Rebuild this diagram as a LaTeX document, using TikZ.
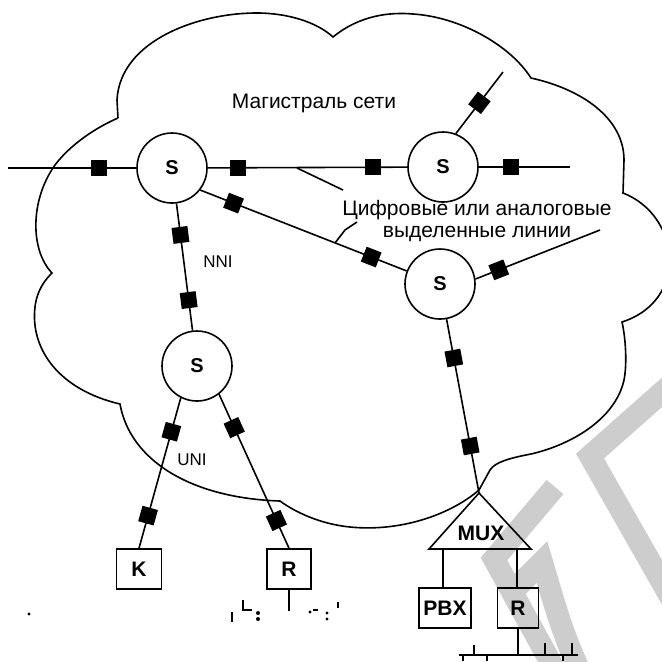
\documentclass[tikz,border=0pt]{standalone}
\usepackage{fontspec}
\setmainfont{Liberation Sans}
\usetikzlibrary{calc}
\definecolor{wmgray}{HTML}{CDCDCD}
\begin{document}
\begin{tikzpicture}[x=0.5pt,y=-0.5pt,line width=0.8pt,
  sw/.style={circle,draw,minimum size=35pt,inner sep=0pt,font=\bfseries\fontsize{10}{12}\selectfont},
  box/.style={draw,minimum height=20pt,inner sep=0pt,font=\bfseries\fontsize{10.5}{12}\selectfont},
  mk/.style={fill=black,draw=none,minimum size=8pt,inner sep=0pt},
  lbl/.style={font=\fontsize{10.5}{11}\selectfont,inner sep=0pt},
  small/.style={font=\fontsize{8.5}{10}\selectfont,inner sep=0pt},
  wm/.style={draw=wmgray,line width=11pt},
  frag/.style={line width=0.7pt}]
\useasboundingbox (0,0) rectangle (662,661);
% watermark
\draw[wm] (555,487) -- (494,559) -- (556,672);
\draw[wm] (512,592) -- (542,562) .. controls (552,595) and (562,635) .. (582,675);
\draw[wm] (685,372) -- (590,456) -- (672,600);
% cloud
\draw (118,118) -- (117,100) .. controls (120,40) and (200,12) .. (260,13)
  .. controls (295,14) and (320,25) .. (333,37)
  .. controls (360,15) and (390,12) .. (413,14)
  .. controls (460,17) and (510,45) .. (531,78)
  .. controls (585,90) and (624,120) .. (624,160) -- (623,193)
  .. controls (680,215) and (690,300) .. (622,322)
  .. controls (626,340) and (627,365) .. (624,380)
  .. controls (615,420) and (570,445) .. (531,454)
  .. controls (510,458) and (495,462) .. (490,470) -- (479,490)
  .. controls (450,515) and (400,532) .. (350,527)
  .. controls (320,524) and (295,512) .. (280,501)
  .. controls (190,498) and (130,460) .. (120,404)
  .. controls (60,390) and (30,350) .. (35,307)
  .. controls (37,290) and (45,280) .. (52,273)
  .. controls (30,250) and (30,200) .. (55,165)
  .. controls (70,145) and (95,128) .. (118,118);
% free ends
\coordinate (eL) at (8,168);
\coordinate (eT) at (503,72);
\coordinate (eR) at (570,167);
\coordinate (eD) at (600,230);
\coordinate (mA) at (479,493);
\coordinate (mL) at (429,549);
\coordinate (mR) at (531,549);
\coordinate (b1) at (443,549);
\coordinate (b2) at (517,549);
% nodes
\node[sw] (S1) at (172,168) {S};
\node[sw] (S2) at (443,167) {S};
\node[sw] (S3) at (440,284) {S};
\node[sw] (S4) at (197,366) {S};
\node[box,minimum width=22.5pt] (K) at (139,569) {K};
\node[box,minimum width=22pt] (RL) at (289,569) {R};
\node[box,minimum width=26pt] (PBX) at (445,608) {PBX};
\node[box,minimum width=20.5pt] (RR) at (518,608) {R};
\draw (mA) -- (mR) -- (mL) -- cycle;
\node[font=\bfseries\fontsize{10.5}{12}\selectfont,inner sep=0pt] (MUX) at (481,533) {MUX};
% connectors
\draw (eL) -- (S1);
\path (eL) -- node[mk,pos=0.555] (q1) {} (S1.center);
\draw (S1) -- (S2);
\path (S1.center) -- node[mk,pos=0.244] (q2) {} node[mk,pos=0.742] (q3) {} (S2.center);
\draw (S2.69) -- (eT);
\path (S2.69) -- node[mk,sloped,pos=0.5] (q4) {} (eT);
\draw (S2) -- (eR);
\path (S2.center) -- node[mk,pos=0.535] (q5) {} (eR);
\draw (S1.-38) -- (S3);
\path (S1.-38) -- node[mk,sloped,pos=0.139] (q6) {} node[mk,sloped,pos=0.713] (q7) {} (S3.center);
\draw (S1) -- (S4);
\path (S1.center) -- node[mk,sloped,pos=0.338] (q8) {} node[mk,sloped,pos=0.667] (q9) {} (S4.center);
\draw (S3.8) -- (eD);
\path (S3.8) -- node[mk,sloped,pos=0.187] (q10) {} (eD);
\draw (S3) -- (mA);
\path (S3.center) -- node[mk,sloped,pos=0.354] (q11) {} node[mk,sloped,pos=0.775] (q12) {} (mA);
\draw (S4.-117) -- (K.north);
\path (S4.-117) -- node[mk,sloped,pos=0.225] (q13) {} node[mk,sloped,pos=0.783] (q14) {} (K.north);
\draw (S4.-52) -- (RL.north);
\path (S4.-52) -- node[mk,sloped,pos=0.217] (q15) {} node[mk,sloped,pos=0.82] (q16) {} (RL.north);
\draw (b1) -- (b1 |- PBX.north);
\draw (b2) -- (b2 |- RR.north);
% bus below right R
\coordinate (busL) at (459,655);
\coordinate (busR) at (578,655);
\draw (busL) -- (busR);
\draw (RR.south) -- (RR.south |- busL);
\draw[frag] (474,645) -- (474,655);
\draw[frag] (545,643) -- (545,655);
\draw[frag] (572,643) -- (572,655);
\draw[frag] (463,655) -- (463,661);
\draw[frag] (487,655) -- (487,661);
\draw[frag] (563,655) -- (563,661);
% below left R
\draw (RL.south) -- ++(0,21);
\draw[frag] (232,612) -- (232,622);
\draw[frag] (243,600) -- (243,610) -- (252,610);
\fill (258,613) circle (1pt) (258,619) circle (1pt);
\draw[frag] (313,610) -- (318,610);
\fill (310,612) circle (0.8pt) (327,613) circle (0.8pt) (327,619) circle (0.8pt);
\draw[frag] (338,602) -- (338,608);
\fill (29,614) circle (0.8pt);
% labels
\node[lbl] (Tmag) at (314,103) {Магистраль сети};
\node[lbl,align=center] (Tdig) at (477,221) {Цифровые или аналоговые\\выделенные линии};
\coordinate (ld1a) at (297,168);
\coordinate (ld1b) at (343,190);
\draw (ld1a) -- (ld1b);
\coordinate (ld2a) at (335,243);
\coordinate (ld2b) at (345,230);
\coordinate (ld2c) at (357,222);
\draw (ld2a) -- (ld2b) -- (ld2c);
\node[small] (Tnni) at (218,262) {NNI};
\node[small] (Tuni) at (192,460) {UNI};
\end{tikzpicture}
\end{document}
